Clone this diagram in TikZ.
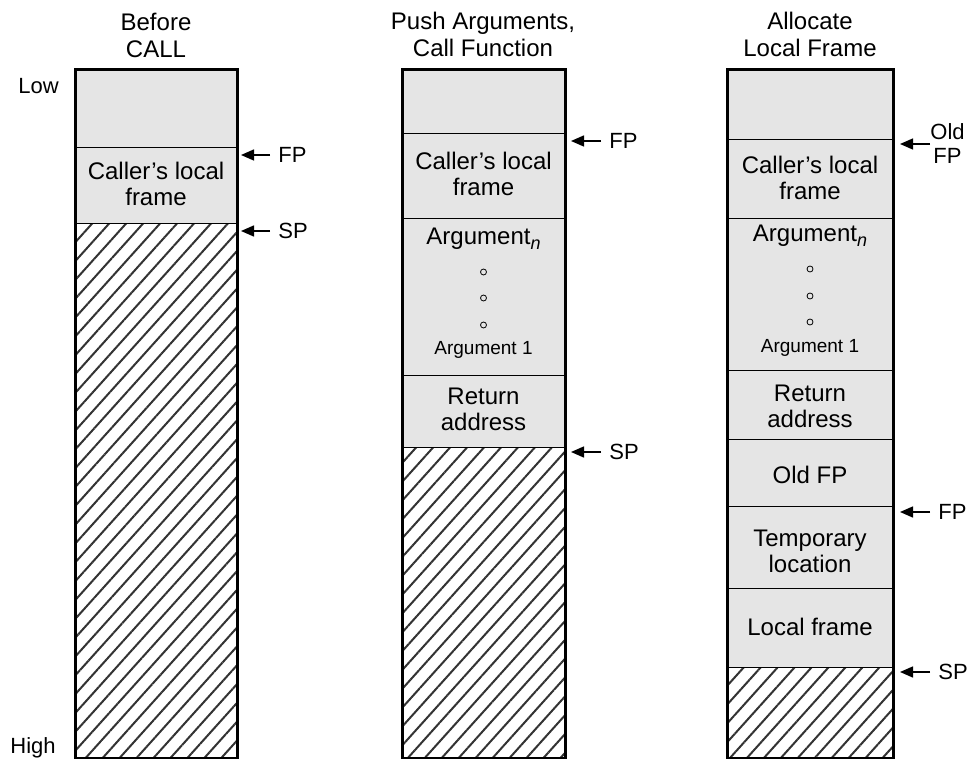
\documentclass[tikz,border=0pt]{standalone}
\usepackage{fontspec}
\setmainfont{Liberation Sans}
\usetikzlibrary{arrows.meta,patterns.meta}

\newcommand{\argsub}[1]{\raisebox{-2.6pt}{\fontsize{9}{9}\selectfont\itshape #1}}

\begin{document}
\begin{tikzpicture}[
    x=0.5pt, y=-0.5pt,
    title/.style={align=center, inner sep=0pt, font=\fontsize{12}{13.5}\selectfont},
    txt/.style={align=center, inner sep=0pt, font=\fontsize{12}{13}\selectfont},
    side/.style={inner sep=0pt, font=\fontsize{11}{12}\selectfont},
    smalltxt/.style={inner sep=0pt, font=\fontsize{9.5}{11}\selectfont},
    ptrlbl/.style={anchor=west, inner xsep=4pt, inner ysep=0pt, align=center, font=\fontsize{11}{12}\selectfont},
    used/.style={fill=gray!20},
    free/.style={pattern={Lines[angle=48, distance=6.3pt, line width=1pt]}, pattern color=black!80},
    divider/.style={line width=0.5pt},
    stackframe/.style={draw, line width=1.5pt},
    ptr/.style={-{Triangle[length=6.5pt, width=5.5pt]}, line width=0.7pt},
    vdot/.style={circle, draw, line width=0.4pt, inner sep=0pt, minimum size=3pt}
  ]

  \useasboundingbox (0,0) rectangle (979,759);

  % Column 1: before the call
  \node[title] (t1) at (156,35) {Before\\CALL};
  \node[side, anchor=west] (low) at (18,86) {Low};
  \node[side, anchor=west] (high) at (10,748) {High};
  \fill[used] (75,70) rectangle (237,224);
  \fill[free] (75,224) rectangle (237,758);
  \draw[divider] (75,148) -- (237,148);
  \draw[divider] (75,224) -- (237,224);
  \draw[stackframe] (75,70) rectangle (237,758);
  \node[txt] (clf1) at (156,184) {Caller’s local\\frame};

  \coordinate (fpat1) at (241,155);
  \coordinate (spat1) at (241,231);
  \node[ptrlbl] (fp1) at (270,155) {FP};
  \node[ptrlbl] (sp1) at (270,231) {SP};
  \draw[ptr] (fp1) -- (fpat1);
  \draw[ptr] (sp1) -- (spat1);

  % Column 2: arguments pushed, function called
  \node[title] (t2) at (483,34) {Push Arguments,\\Call Function};
  \fill[used] (402,70) rectangle (565,447);
  \fill[free] (402,447) rectangle (565,758);
  \foreach \y in {134,219,375,447}
    \draw[divider] (402,\y) -- (565,\y);
  \draw[stackframe] (402,70) rectangle (565,758);
  \node[txt] (clf2) at (483.5,174) {Caller’s local\\frame};
  \node[txt] (argn2) at (483.5,239) {Argument\argsub{n}};
  \foreach \y [count=\i] in {272,298,325}
    \node[vdot] (d2\i) at (483.5,\y) {};
  \node[smalltxt] (arg12) at (483.5,350) {Argument 1};
  \node[txt] (ret2) at (483.5,409) {Return\\address};

  \coordinate (fpat2) at (571,141);
  \coordinate (spat2) at (571,452);
  \node[ptrlbl] (fp2) at (601,141) {FP};
  \node[ptrlbl] (sp2) at (601,452) {SP};
  \draw[ptr] (fp2) -- (fpat2);
  \draw[ptr] (sp2) -- (spat2);

  % Column 3: local frame allocated
  \node[title] (t3) at (810,34) {Allocate\\Local Frame};
  \fill[used] (727,70) rectangle (893,667);
  \fill[free] (727,667) rectangle (893,758);
  \foreach \y in {140,219,370,439,506,588,667}
    \draw[divider] (727,\y) -- (893,\y);
  \draw[stackframe] (727,70) rectangle (893,758);
  \node[txt] (clf3) at (810,178) {Caller’s local\\frame};
  \node[txt] (argn3) at (810,236) {Argument\argsub{n}};
  \foreach \y [count=\i] in {269,296,322}
    \node[vdot] (d3\i) at (810,\y) {};
  \node[smalltxt] (arg13) at (810,348) {Argument 1};
  \node[txt] (ret3) at (810,406) {Return\\address};
  \node[txt] (ofp3) at (810,475) {Old FP};
  \node[txt] (tmp3) at (810,551) {Temporary\\location};
  \node[txt] (lf3) at (810,627) {Local frame};

  \coordinate (ofpat3) at (900,144);
  \coordinate (fpat3) at (900,512);
  \coordinate (spat3) at (900,672);
  \node[ptrlbl, inner xsep=0pt] (ofp3l) at (930,144) {Old\\FP};
  \node[ptrlbl] (fp3) at (930,512) {FP};
  \node[ptrlbl] (sp3) at (930,672) {SP};
  \draw[ptr] (ofp3l) -- (ofpat3);
  \draw[ptr] (fp3) -- (fpat3);
  \draw[ptr] (sp3) -- (spat3);

\end{tikzpicture}
\end{document}
